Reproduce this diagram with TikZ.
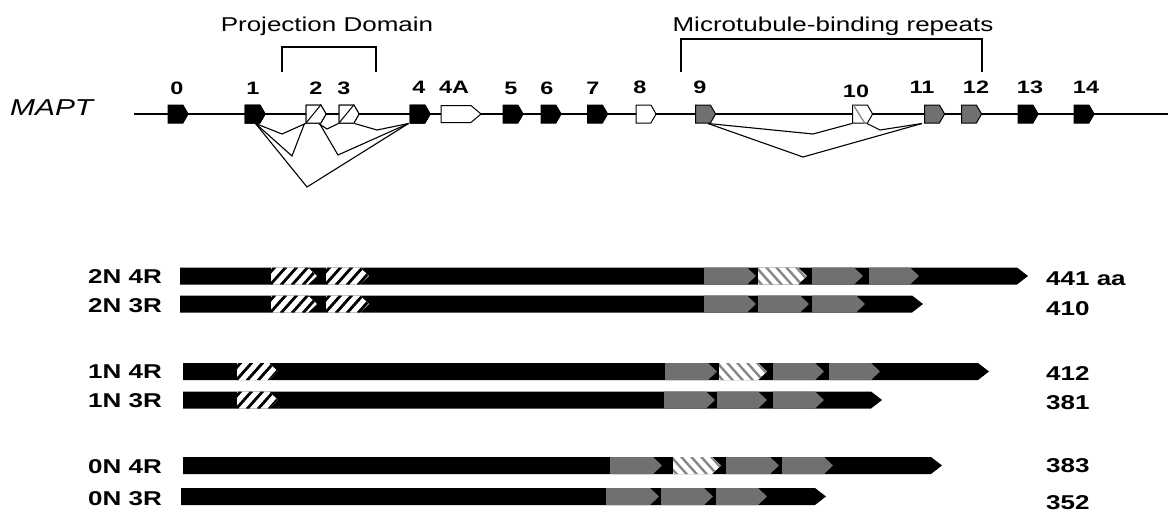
\documentclass[tikz,border=0pt]{standalone}
\usepackage{fontspec}
\setmainfont{Liberation Sans}[FakeStretch=1.3]
\usetikzlibrary{shapes.symbols}
\definecolor{mtgrey}{RGB}{112,112,112}
\definecolor{hgrey}{RGB}{135,135,135}
\tikzset{
  exon/.style={shape=signal, signal to=east, signal pointer angle=120, draw=black, line width=1pt,
    minimum width=20pt, minimum height=18pt, inner sep=0pt, fill=black},
  grexon/.style={exon, fill=mtgrey},
  whexon/.style={exon, fill=white},
  elab/.style={font=\fontsize{18}{20}\selectfont\bfseries, anchor=base, inner sep=0pt},
  rlab/.style={font=\fontsize{20}{22}\selectfont\bfseries, anchor=base, inner sep=0pt},
  nlab/.style={font=\fontsize{20}{22}\selectfont\bfseries, anchor=base west, inner sep=0pt},
  ttl/.style={font=\fontsize{20}{22}\selectfont, anchor=base, inner sep=0pt},
  splice/.style={line width=1.1pt, line join=miter},
}
\newcommand\mybar[3]{% y, x0, tip
  \fill (#2,#1-8.5) -- (#3-11,#1-8.5) -- (#3,#1) -- (#3-11,#1+8.5) -- (#2,#1+8.5) -- cycle;}
\newcommand\gseg[3]{% y, x0, x1
  \fill[mtgrey] (#2,#1-8.5) -- (#3-9,#1-8.5) -- (#3,#1) -- (#3-9,#1+8.5) -- (#2,#1+8.5) -- cycle;}
\newcommand\hseg[3]{%
  \begin{scope}
  \clip (#2,#1-8.5) -- (#3-9,#1-8.5) -- (#3,#1) -- (#3-9,#1+8.5) -- (#2,#1+8.5) -- cycle;
  \fill[white] (#2-1,#1-10) rectangle (#3+1,#1+10);
  \foreach \k in {0,...,7}{\draw[line width=2.8pt] ({#2-12+\k*11},#1+9) -- ({#2+4+\k*11},#1-9);}
  \end{scope}}
\newcommand\ghseg[3]{%
  \begin{scope}
  \clip (#2,#1-8.5) -- (#3-9,#1-8.5) -- (#3,#1) -- (#3-9,#1+8.5) -- (#2,#1+8.5) -- cycle;
  \fill[white] (#2-1,#1-10) rectangle (#3+1,#1+10);
  \foreach \k in {0,...,7}{\draw[hgrey, line width=2.4pt] ({#2-12+\k*10},#1-9) -- ({#2+4+\k*10},#1+9);}
  \end{scope}}
\begin{document}
\begin{tikzpicture}[x=1pt, y=-1pt]
\useasboundingbox (0,0) rectangle (1168,511);
% titles and brackets
\node[ttl] (pd) at (327,32) {Projection Domain};
\node[ttl] (mb) at (833,32) {Microtubule-binding repeats};
\draw[line width=1.2pt] (282,72) -- (282,47) -- (376,47) -- (376,72);
\draw[line width=1.2pt] (681,72) -- (681,39) -- (982,39) -- (982,72);
% gene
\node[font=\fontsize{23}{25}\selectfont\itshape, anchor=base west, inner sep=0pt] (mapt) at (10,115) {MAPT};
\coordinate (gs) at (134,114);
\coordinate (ge) at (1168,114);
\draw[line width=1.3pt] (gs) -- (ge);
% splice lines
\node[exon] (e1) at (252.5,114) {};
\node[whexon] (e2) at (313.5,114) {};
\node[whexon] (e3) at (346.5,114) {};
\node[exon] (e4) at (417.5,114) {};
\draw[splice] ([xshift=3pt]e1.south) -- (282,134) -- ([xshift=-8pt]e2.south);
\draw[splice] ([xshift=3pt]e1.south) -- (292,156) -- ([xshift=-9pt]e2.south);
\draw[splice] ([xshift=5pt]e2.south) -- (327,129) -- ([xshift=-8pt]e3.south);
\draw[splice] ([xshift=6pt]e2.south) -- (338,155) -- ([xshift=-9pt]e4.south);
\draw[splice] ([xshift=8pt]e3.south) -- (377,130) -- ([xshift=-9pt]e4.south);
\draw[splice] ([xshift=3pt]e1.south) -- (307,187) -- ([xshift=-9pt]e4.south);
% exons
\node[exon] (e0) at (175.5,114) {};
\node[exon] at (e1) {};
\node[whexon] at (e2) {};
\node[whexon] at (e3) {};
\draw[line width=1pt] (e2.south west) -- (e2.north east);
\draw[line width=1pt] (e3.south west) -- (e3.north east);
\node[exon] at (e4) {};
\node[whexon, minimum width=40pt, minimum height=17pt, signal pointer angle=80] (e4a) at (456,114) {};
\node[exon] (e5) at (510.5,114) {};
\node[exon] (e6) at (548.5,114) {};
\node[exon] (e7) at (595,114) {};
\node[whexon] (e8) at (643.5,114) {};
\node[grexon] (e9) at (703,114) {};
\node[whexon] (e10) at (860,114) {};
\node[grexon] (e11) at (932,114) {};
\node[grexon] (e12) at (969,114) {};
\node[exon] (e13) at (1025.5,114) {};
\node[exon] (e14) at (1081.5,114) {};
\draw[hgrey, line width=1.3pt] ([xshift=-7pt]e10.north) -- ([xshift=5pt]e10.south);
\draw[splice] ([xshift=5pt]e9.south) -- (813,134) -- ([xshift=-8pt]e10.south);
\draw[splice] ([xshift=5pt]e9.south) -- (803,157) -- ([xshift=-10pt]e11.south);
\draw[splice] ([xshift=7pt]e10.south) -- (880,130) -- ([xshift=-10pt]e11.south);
% exon labels
\node[elab] (l0) at (177,95) {0};
\node[elab] (l1) at (253,95) {1};
\node[elab] (l2) at (316,95) {2};
\node[elab] (l3) at (344,95) {3};
\node[elab] (l4) at (419,94) {4};
\node[elab] (l4a) at (454,94) {4A};
\node[elab] (l5) at (511,95) {5};
\node[elab] (l6) at (547,95) {6};
\node[elab] (l7) at (593,95) {7};
\node[elab] (l8) at (640,94) {8};
\node[elab] (l9) at (700,94) {9};
\node[elab] (l10) at (856,97) {10};
\node[elab] (l11) at (922,93) {11};
\node[elab] (l12) at (976,93) {12};
\node[elab] (l13) at (1030,93) {13};
\node[elab] (l14) at (1086,93) {14};
% isoforms
\node[rlab] (r1) at (125,283) {2N 4R};
\node[rlab] (r2) at (125,312) {2N 3R};
\node[rlab] (r3) at (125,378) {1N 4R};
\node[rlab] (r4) at (125,407) {1N 3R};
\node[rlab] (r5) at (125,473) {0N 4R};
\node[rlab] (r6) at (125,505) {0N 3R};
\node[nlab] (n1) at (1046,285) {441 aa};
\node[nlab] (n2) at (1046,315) {410};
\node[nlab] (n3) at (1046,380) {412};
\node[nlab] (n4) at (1046,409) {381};
\node[nlab] (n5) at (1046,472) {383};
\node[nlab] (n6) at (1046,509) {352};
% 2N4R
\mybar{276}{180}{1028}
\hseg{276}{271}{317}\hseg{276}{326}{369}
\gseg{276}{704}{756}\ghseg{276}{758}{807}\gseg{276}{812}{863}\gseg{276}{869}{919}
% 2N3R
\mybar{304}{180}{923}
\hseg{304}{271}{317}\hseg{304}{326}{369}
\gseg{304}{704}{756}\gseg{304}{758}{809}\gseg{304}{812}{865}
% 1N4R
\mybar{371.5}{183}{989}
\hseg{371.5}{237}{278}
\gseg{371.5}{665}{717}\ghseg{371.5}{719}{767}\gseg{371.5}{773}{824}\gseg{371.5}{829}{880}
% 1N3R
\mybar{400}{183}{882}
\hseg{400}{237}{278}
\gseg{400}{664}{715}\gseg{400}{717}{767}\gseg{400}{773}{824}
% 0N4R
\mybar{465.5}{183}{942}
\gseg{465.5}{610}{662}\ghseg{465.5}{673}{721}\gseg{465.5}{726}{779}\gseg{465.5}{782}{833}
% 0N3R
\mybar{496.5}{181}{826}
\gseg{496.5}{606}{659}\gseg{496.5}{661}{713}\gseg{496.5}{716}{767}
\end{tikzpicture}
\end{document}
